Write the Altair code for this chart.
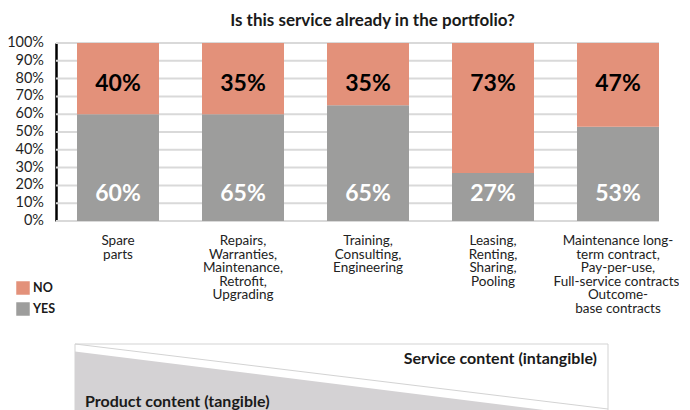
import altair as alt
import pandas as pd

# ---------------- data ----------------
categories = [
    "Spare\nparts",
    "Repairs,\nWarranties,\nMaintenance,\nRetrofit,\nUpgrading",
    "Training,\nConsulting,\nEngineering",
    "Leasing,\nRenting,\nSharing,\nPooling",
    "Maintenance long-\nterm contract,\nPay-per-use,\nFull-service contracts,\nOutcome-\nbase contracts",
]
yes_values = [60, 60, 65, 27, 53]
no_values = [40, 40, 35, 73, 47]
yes_labels = ["60%", "65%", "65%", "27%", "53%"]
no_labels = ["40%", "35%", "35%", "73%", "47%"]
answers = ["NO", "YES"]
answer_colors = ["#E3917A", "#9D9D9C"]
y_ticks = list(range(0, 101, 10))

title_text = "Is this service already in the portfolio?"
service_text = "Service content (intangible)"
product_text = "Product content (tangible)"
continuum_pos = [0, 1]
product_share = [0.9, 0.0]

# ---------------- tables ----------------
rows = []
for i, c in enumerate(categories):
    rows.append(dict(cat=c, answer="YES", value=yes_values[i], label=yes_labels[i], order=0))
    rows.append(dict(cat=c, answer="NO", value=no_values[i], label=no_labels[i], order=1))
df = pd.DataFrame(rows)
cat_df = pd.DataFrame({"cat": categories})
tick_df = pd.DataFrame({"tick": y_ticks})
dec_df = pd.DataFrame({"t": continuum_pos, "s": product_share})
one = pd.DataFrame({"k": [0]})

W, H = 603, 178
FONT = "Lato"

xscale = alt.Scale(domain=categories, paddingInner=0.344, paddingOuter=0.084, align=1)
xenc = alt.X("cat:N", sort=categories, scale=xscale, axis=None)

yscale = alt.Scale(domain=[0, 100], nice=False)
yaxis = alt.Axis(
    labels=False,
    grid=False,
    ticks=False,
    domainColor="black",
    domainWidth=2.5,
    title=None,
)

# gridlines and tick labels drawn from the tick list through the y scale
grid = alt.Chart(tick_df).mark_rule(color="#d9d9d9", strokeWidth=2).encode(
    y=alt.Y("tick:Q", scale=yscale, axis=yaxis)
)
tick_labels = alt.Chart(tick_df).transform_calculate(
    lab="datum.tick + '%'"
).mark_text(
    font=FONT, fontSize=14.5, color="#1f1f1f", align="right", baseline="middle"
).encode(
    x=alt.value(-12), y=alt.Y("tick:Q", scale=yscale, axis=yaxis), text="lab:N"
)

bars = alt.Chart(df).mark_bar().encode(
    x=xenc,
    y=alt.Y("value:Q", stack="zero", scale=yscale, axis=yaxis),
    color=alt.Color(
        "answer:N",
        scale=alt.Scale(domain=answers, range=answer_colors),
        legend=alt.Legend(
            orient="none",
            legendX=-40,
            legendY=238,
            title=None,
            symbolType="square",
            symbolSize=182,
            symbolStrokeWidth=0,
            labelFontWeight="bold",
            labelFontSize=12.5,
            labelFont=FONT,
            labelColor="#1a1a1a",
            rowPadding=7,
            labelOffset=3,
            padding=0,
        ),
    ),
    order=alt.Order("order:Q"),
)

no_text = alt.Chart(df).transform_filter("datum.answer == 'NO'").mark_text(
    font=FONT, fontWeight="bold", fontSize=23, color="black", baseline="middle"
).encode(x=xenc, y=alt.YDatum(77, scale=yscale, axis=yaxis), text="label:N")

yes_text = alt.Chart(df).transform_filter("datum.answer == 'YES'").mark_text(
    font=FONT, fontWeight="bold", fontSize=23, color="white", baseline="middle"
).encode(x=xenc, y=alt.YDatum(15, scale=yscale, axis=yaxis), text="label:N")

xlabels = alt.Chart(cat_df).mark_text(
    font=FONT, fontSize=13.5, lineHeight=13.6, lineBreak="\n", baseline="top", color="#222222"
).encode(x=xenc, y=alt.value(H + 13), text="cat:N")

main = alt.layer(grid, bars, tick_labels, no_text, yes_text, xlabels)

# ---------------- decoration: product / service continuum ----------------
dxs = alt.Scale(domain=[0, 1], range=[19, 552])
dys = alt.Scale(domain=[0, 1], range=[375, 301])

box = alt.Chart(one).mark_rect(fillOpacity=0, stroke="#d3d3d3", strokeWidth=1).encode(
    x=alt.value(19), x2=alt.value(552), y=alt.value(301), y2=alt.value(420)
)
area = alt.Chart(dec_df).mark_area(color="#D4D2D4").encode(
    x=alt.X("t:Q", scale=dxs, axis=None),
    y=alt.Y("s:Q", scale=dys, axis=None),
    y2=alt.datum(0),
)
diag = alt.Chart(one).mark_rule(color="#d3d3d3", strokeWidth=1).encode(
    x=alt.value(19), x2=alt.value(552), y=alt.value(301), y2=alt.value(366)
)
service = alt.Chart(one).mark_text(
    font=FONT, fontSize=16, fontWeight="bold", align="right", baseline="alphabetic", color="#1a1a1a"
).encode(x=alt.value(541), y=alt.value(321), text=alt.value(service_text))
product = alt.Chart(one).mark_text(
    font=FONT, fontSize=16, fontWeight="bold", align="left", baseline="alphabetic", color="#1a1a1a"
).encode(x=alt.value(29), y=alt.value(364), text=alt.value(product_text))

decor = alt.layer(box, area, diag, service, product)

chart = (
    alt.layer(main, decor)
    .resolve_scale(x="independent", y="independent")
    .properties(
        width=W,
        height=H,
        title=alt.TitleParams(
            title_text,
            anchor="middle",
            frame="group",
            dx=15,
            offset=5,
            fontSize=17,
            fontWeight="bold",
            font=FONT,
            color="#1a1a1a",
        ),
        autosize=alt.AutoSizeParams(type="none"),
        padding={"left": 48, "top": 35, "right": 20, "bottom": 189},
    )
    .configure(font=FONT)
    .configure_view(strokeWidth=0)
)

chart.save("out.html", embed_options={"renderer": "svg", "actions": False})
